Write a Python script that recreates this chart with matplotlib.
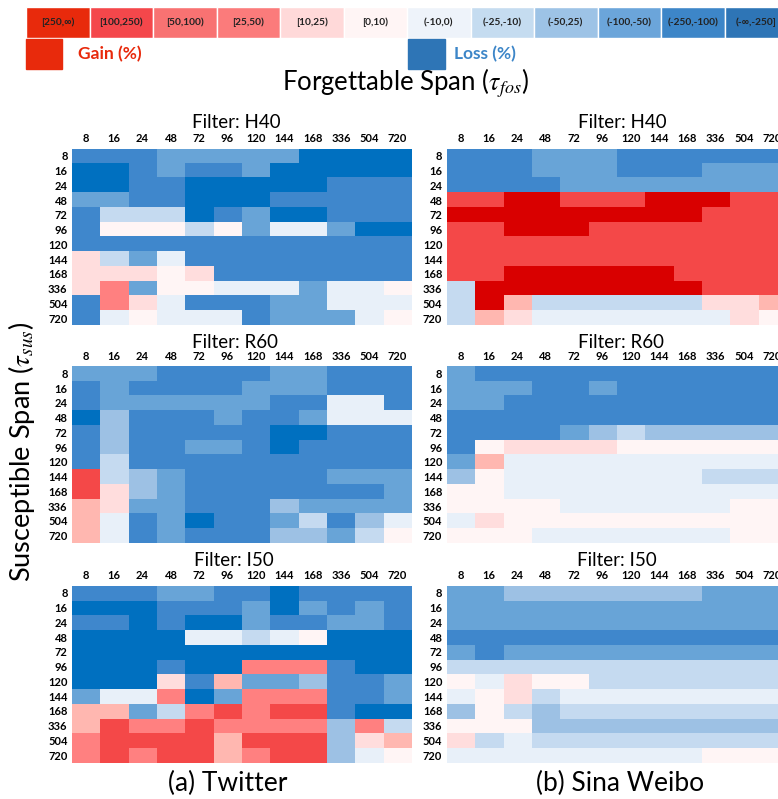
import numpy as np
import matplotlib
matplotlib.use("Agg")
import matplotlib.pyplot as plt
from matplotlib.colors import ListedColormap, BoundaryNorm
from matplotlib.patches import Rectangle

plt.rcParams['font.family'] = ['Lato', 'DejaVu Sans']
plt.rcParams['mathtext.fontset'] = 'stix'

spans = ["8", "16", "24", "48", "72", "96", "120", "144", "168", "336", "504", "720"]

bin_labels = ["[250,\u221e)", "[100,250)", "[50,100)", "[25,50)", "[10,25)", "[0,10)",
              "(-10,0)", "(-25,-10)", "(-50,25)", "(-100,-50)", "(-250,-100)", "(-\u221e,-250]"]
legend_colors = ["#E82A0C", "#F4474B", "#F87272", "#FB7B7B", "#FFD9D9", "#FFF5F5",
                 "#EEF3FA", "#C5DCF0", "#9DC3E6", "#6BA5DA", "#3D86C8", "#2E75B6"]
cell_colors = ["#D90000", "#F44848", "#FF8080", "#FFB7B0", "#FFDDDD", "#FFF5F5",
               "#E8F0F9", "#C5DAF0", "#9DC1E4", "#68A4D7", "#3F87CC", "#0070C0"]

# bin index per cell (hex digit, 0 = biggest gain ... B = biggest loss)
twitter_h40 = ["AAA99999BBBB", "BBA9AA9BBBBB", "BBAABBBBBAAA", "99AABBBAAAAA",
               "A777BA9BBAAA", "A555759669BB", "AAAAAAAAAAAA", "4796AAAAAAAA",
               "44454AAAAAAA", "429556669665", "A246AAA99666", "A65666A99965"]
weibo_h40 = ["AAA999AAAAAA", "AAA999AAA999", "AAAA99999999", "110011100011",
             "000000000111", "110001111111", "111111111111", "111111111111",
             "110000001111", "700000000111", "703777777443", "734666666645"]
twitter_r60 = ["999AAAA99AAA", "A9AAAA999AAA", "A999999AA66A", "B8AAA9AA9666",
               "A8AAAAABBAAA", "A8AA99ABAAAA", "A7AAAAAAAAAA", "1789AAAAA999",
               "1489AAAAAAA9", "3499AAA89999", "36A9BAA97A86", "36A9AAA88975"]
weibo_r60 = ["9AAAAAAAAAAA", "999AA9AAAAAA", "99AAAAAAAAAA", "AAAAAAAAAAAA",
             "AAAA98788888", "A54444555555", "936666666666", "856666666777",
             "556666666666", "555566666655", "645555555555", "555666666655"]
twitter_i50 = ["AAA99AABAAAA", "BBBAAA9B9A9A", "AABABB9AA99A", "BBBB66765BBB",
               "BBBBBBBBBBBB", "BBBABB222ABB", "BBB4A3998AA9", "9662B9222AA9",
               "339721211ABB", "312212222827", "211113111843", "212113211865"]
weibo_i50 = ["998888888999", "999999999999", "999999999999", "AAAAAAAAAAAA",
             "9A9999999999", "777777777777", "564557777777", "654766666666",
             "857877777777", "555888888888", "476777777777", "666666666555"]

W, H = 778, 799
fig = plt.figure(figsize=(W / 100, H / 100), dpi=100)


def px_axes(x0, y0, w, h):
    return fig.add_axes([x0 / W, 1 - (y0 + h) / H, w / W, h / H])


# overlay in pixel coordinates for free text
ov = px_axes(0, 0, W, H)
ov.set_xlim(0, W)
ov.set_ylim(H, 0)
ov.axis('off')

# top bin legend
lg = px_axes(26, 7, 762, 31)
lg.bar(np.arange(12), np.ones(12), width=1.0, color=legend_colors, edgecolor='white', linewidth=1)
for i, lab in enumerate(bin_labels):
    lg.text(i, 0.5, lab, ha='center', va='center', fontsize=7.3, fontweight='bold', color='#222222')
lg.set_xlim(-0.5, 11.5)
lg.set_ylim(0, 1)
lg.axis('off')

ov.add_patch(Rectangle((26, 39), 36, 30, color="#E82A0C"))
ov.text(78, 54, "Gain (%)", color="#E8290B", fontsize=12.5, fontweight='bold', va='center')
ov.add_patch(Rectangle((408, 39), 37, 30, color="#2E75B6"))
ov.text(454, 54, "Loss (%)", color="#3D86C8", fontsize=12.5, fontweight='bold', va='center')

ov.text(406, 83, r"Forgettable Span ($\tau_{fos}$)", fontsize=18.5, ha='center', va='center')
ov.text(22, 452, r"Susceptible Span ($\tau_{sus}$)", fontsize=19.5, ha='center', va='center',
        rotation=90)
ov.text(228, 783, "(a) Twitter", fontsize=19, ha='center', va='center')
ov.text(620, 783, "(b) Sina Weibo", fontsize=19, ha='center', va='center')

cmap = ListedColormap(cell_colors)
norm = BoundaryNorm(np.arange(-0.5, 12.5, 1), cmap.N)

panels = [
    (twitter_h40, 71.7, 148.5, "Filter: H40", 236, 122),
    (weibo_h40, 446.5, 148.5, "Filter: H40", 622, 122),
    (twitter_r60, 71.7, 366, "Filter: R60", 235, 342),
    (weibo_r60, 446.5, 366, "Filter: R60", 621, 342),
    (twitter_i50, 71.7, 585.5, "Filter: I50", 234, 560),
    (weibo_i50, 446.5, 585.5, "Filter: I50", 617, 560),
]

for rows, x0, y0, title, tx, ty in panels:
    grid = np.array([[int(c, 16) for c in r] for r in rows])
    ax = px_axes(x0, y0, 340, 177)
    ax.imshow(grid, cmap=cmap, norm=norm, aspect='auto', interpolation='nearest')
    ax.set_xticks(range(12))
    ax.set_xticklabels(spans, fontsize=8, fontweight='bold')
    ax.set_yticks(range(12))
    ax.set_yticklabels(spans, fontsize=8, fontweight='bold')
    ax.xaxis.tick_top()
    ax.tick_params(length=0, pad=3)
    for s in ax.spines.values():
        s.set_visible(False)
    ov.text(tx, ty, title, fontsize=13.5, ha='center', va='center')

fig.savefig("out.png", dpi=100)
